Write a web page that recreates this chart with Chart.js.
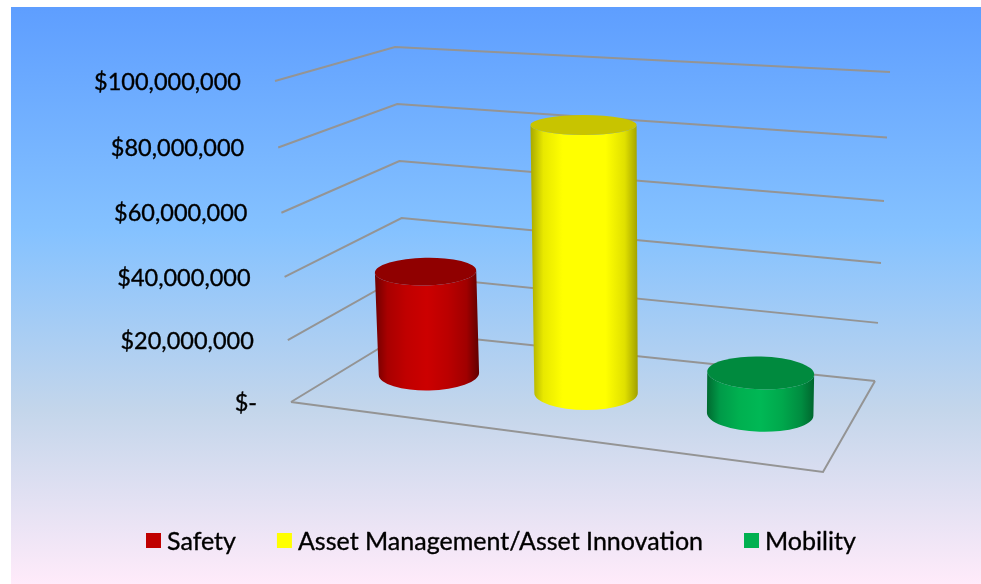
<!DOCTYPE html>
<html>
<head>
<meta charset="utf-8">
<style>
  html, body { margin: 0; padding: 0; background: #fff; }
  canvas { display: block; }
</style>
<script src="https://cdn.jsdelivr.net/npm/chart.js"></script>
</head>
<body>
<canvas id="fundingChart" width="981" height="584"></canvas>
<script>
const categories = ["Safety", "Asset Management/Asset Innovation", "Mobility"];
const amounts = [34000000, 85500000, 13500000];
const axisMax = 100000000;
const axisStep = 20000000;

const swatchColors = ["#c00000", "#ffff00", "#00b050"];
const capColors = ["#900000", "#c8c400", "#008a3e"];
const sideShades = [
    ["#700000", "#a80000", "#c00000", "#cc0000", "#bb0000", "#a00000", "#600000"],
    ["#a8a800", "#e8e800", "#ffff00", "#ffff00", "#ffff00", "#e0e000", "#a0a000"],
    ["#006a30", "#009a48", "#00b050", "#00b855", "#00a84c", "#008c40", "#00662e"]
];
const shadeStops = [0, 0.12, 0.3, 0.5, 0.7, 0.88, 1];

// floor corners of the 3D box, and how each corner climbs with height
const floorFL = { x: 291, y: 402 };
const floorFR = { x: 823, y: 472 };
const floorBR = { x: 875, y: 381 };
const floorBL = { x: 406, y: 332 };
const climbFL = { a: 307, b: 14, d: -16 };
const climbFR = { a: 320, b: 25, d: 0 };
const climbBR = { a: 286, b: 23, d: 15 };
const climbBL = { a: 285, b: 0, d: -11 };
const tickFont = "23.5px Lato";
const legendFont = "25px Lato";

// square -> quad perspective map for the floor
function floorPoint(u, w) {
    const dx1 = floorFR.x - floorBR.x, dy1 = floorFR.y - floorBR.y;
    const dx2 = floorBL.x - floorBR.x, dy2 = floorBL.y - floorBR.y;
    const sx = floorFL.x - floorFR.x + floorBR.x - floorBL.x;
    const sy = floorFL.y - floorFR.y + floorBR.y - floorBL.y;
    const den = dx1 * dy2 - dx2 * dy1;
    const g = (sx * dy2 - dx2 * sy) / den;
    const h = (dx1 * sy - sx * dy1) / den;
    const a = floorFR.x - floorFL.x + g * floorFR.x;
    const b = floorBL.x - floorFL.x + h * floorBL.x;
    const d = floorFR.y - floorFL.y + g * floorFR.y;
    const e = floorBL.y - floorFL.y + h * floorBL.y;
    const q = g * u + h * w + 1;
    return { x: (a * u + b * w + floorFL.x) / q, y: (d * u + e * w + floorFL.y) / q };
}

function mix(key, u, w) {
    return (1 - w) * ((1 - u) * climbFL[key] + u * climbFR[key]) +
        w * ((1 - u) * climbBL[key] + u * climbBR[key]);
}

function boxPoint(u, w, f) {
    const p = floorPoint(u, w);
    return {
        x: p.x + mix("d", u, w) * f,
        y: p.y - mix("a", u, w) * f - mix("b", u, w) * f * f
    };
}

function heightOf(scale, value) {
    return (scale.bottom - scale.getPixelForValue(value)) / scale.height;
}

function heavyText(ctx, text, x, y) {
    ctx.fillStyle = "#000";
    ctx.strokeStyle = "#000";
    ctx.lineWidth = 0.35;
    ctx.fillText(text, x, y);
    ctx.strokeText(text, x, y);
}

const backdrop = {
    id: "backdrop",
    beforeDraw(chart) {
        const ctx = chart.ctx;
        const grad = ctx.createLinearGradient(0, 7, 0, 584);
        grad.addColorStop(0, "#5e9eff");
        grad.addColorStop(0.39, "#85c2ff");
        grad.addColorStop(0.7, "#c4d6eb");
        grad.addColorStop(1, "#ffebfa");
        ctx.fillStyle = grad;
        ctx.fillRect(11, 7, 970, 577);
    }
};

const box3d = {
    id: "box3d",
    beforeDatasetsDraw(chart) {
        const ctx = chart.ctx;
        const y = chart.scales.y;
        const gridColor = "#949494";
        ctx.save();
        ctx.lineJoin = "miter";
        y.ticks.forEach((tick) => {
            const f = heightOf(y, tick.value);
            const a = boxPoint(0, 0, f), b = boxPoint(0, 1, f), c = boxPoint(1, 1, f);
            ctx.strokeStyle = gridColor;
            ctx.lineWidth = 2;
            ctx.beginPath();
            ctx.moveTo(a.x, a.y);
            ctx.lineTo(b.x, b.y);
            ctx.lineTo(c.x, c.y);
            ctx.stroke();

            ctx.font = tickFont;
            ctx.textAlign = "right";
            ctx.textBaseline = "middle";
            heavyText(ctx, tick.label, a.x - 34, a.y + 1);
        });
        const fl = boxPoint(0, 0, 0), fr = boxPoint(1, 0, 0), br = boxPoint(1, 1, 0);
        ctx.strokeStyle = gridColor;
        ctx.lineWidth = 2;
        ctx.beginPath();
        ctx.moveTo(fl.x, fl.y);
        ctx.lineTo(fr.x, fr.y);
        ctx.lineTo(br.x, br.y);
        ctx.stroke();
        ctx.restore();
    },
    afterDatasetsDraw(chart) {
        const ctx = chart.ctx;
        const xs = chart.scales.x, ys = chart.scales.y;
        chart.getDatasetMeta(0).data.forEach((bar, i) => {
            // columns sit a touch right of the slot centre and drift forward across the floor
            const u = (bar.x - xs.left) / xs.width + 0.008;
            const w = 0.5 - 0.025 * u;
            const f = heightOf(ys, amounts[i]);
            const bottom = boxPoint(u, w, 0);
            const top = boxPoint(u, w, f);
            const rx = (bar.width / 2) * (0.96 + 0.09 * u);
            const rxTop = rx * (1 + 0.03 * f);
            const ryBottom = rx * 0.33;
            const ryTop = rx * (0.33 - 0.16 * f);
            const rot = (u - 0.5) * 0.1 * (1 - f);

            const grad = ctx.createLinearGradient(Math.min(top.x - rxTop, bottom.x - rx), 0, Math.max(top.x + rxTop, bottom.x + rx), 0);
            shadeStops.forEach((s, k) => grad.addColorStop(s, sideShades[i][k]));
            ctx.beginPath();
            ctx.ellipse(bottom.x, bottom.y, rx, ryBottom, rot, 0, Math.PI);
            ctx.ellipse(top.x, top.y, rxTop, ryTop, rot, Math.PI, 0, true);
            ctx.closePath();
            ctx.fillStyle = grad;
            ctx.fill();

            ctx.beginPath();
            ctx.ellipse(top.x, top.y, rxTop, ryTop, rot, 0, Math.PI * 2);
            ctx.fillStyle = capColors[i];
            ctx.fill();
        });
    },
    afterDraw(chart) {
        // legend has a tighter box/text gap than the built in one allows
        const ctx = chart.ctx;
        ctx.save();
        ctx.font = legendFont;
        ctx.textAlign = "left";
        ctx.textBaseline = "middle";
        let x = 146;
        categories.forEach((name, i) => {
            ctx.fillStyle = swatchColors[i];
            ctx.fillRect(x, 533, 15, 15);
            heavyText(ctx, name, x + 21, 542);
            x += 21 + ctx.measureText(name).width + 41;
        });
        ctx.restore();
    }
};

new Chart(document.getElementById("fundingChart"), {
    type: "bar",
    data: {
        labels: categories,
        datasets: [{
            label: "Funding",
            data: amounts,
            backgroundColor: "transparent",
            barPercentage: 0.58,
            categoryPercentage: 1
        }]
    },
    options: {
        responsive: false,
        animation: false,
        layout: { padding: { left: 291, right: 158, top: 81, bottom: 182 } },
        plugins: { legend: { display: false }, tooltip: { enabled: false } },
        scales: {
            x: { display: false },
            y: {
                display: false,
                min: 0,
                max: axisMax,
                ticks: {
                    stepSize: axisStep,
                    callback: (v) => (v === 0 ? "$-" : "$" + v.toLocaleString("en-US"))
                }
            }
        }
    },
    plugins: [backdrop, box3d]
});
</script>
</body>
</html>
